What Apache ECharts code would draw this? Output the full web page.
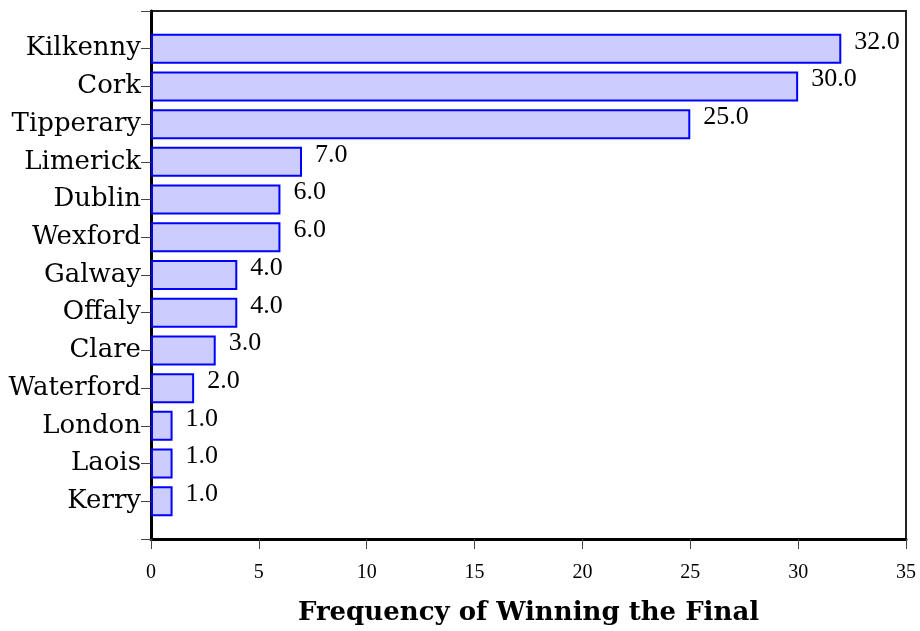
<!DOCTYPE html>
<html>
<head>
<meta charset="utf-8">
<script src="https://cdn.jsdelivr.net/npm/echarts@6/dist/echarts.min.js"></script>
<style>
  html, body { margin: 0; padding: 0; background: #fff; }
  #chart { width: 920px; height: 631px; }
</style>
</head>
<body>
<div id="chart"></div>
<script>
// All-Ireland hurling final wins by county
const counties = ['Kilkenny', 'Cork', 'Tipperary', 'Limerick', 'Dublin', 'Wexford', 'Galway',
                  'Offaly', 'Clare', 'Waterford', 'London', 'Laois', 'Kerry'];
const wins = [32, 30, 25, 7, 6, 6, 4, 4, 3, 2, 1, 1, 1];
const xTicks = [0, 5, 10, 15, 20, 25, 30, 35];

// Blank slots at both ends give the half-step margin above the first and below the last bar
const yData = [''].concat(counties, ['']);
const barData = ['-'].concat(wins, ['-']);

const chart = echarts.init(document.getElementById('chart'), null, { renderer: 'canvas' });

chart.setOption({
  animation: false,
  grid: {
    left: 151, right: 14, top: 11, bottom: 91,
    show: true, borderColor: '#222', borderWidth: 2, backgroundColor: 'transparent'
  },
  xAxis: {
    type: 'value',
    min: xTicks[0],
    max: xTicks[xTicks.length - 1],
    interval: 5,
    splitLine: { show: false },
    axisLine: { show: true, lineStyle: { color: '#000', width: 3 } },
    axisTick: { show: true, length: 10, lineStyle: { color: '#444', width: 1 } },
    axisLabel: {
      margin: 24,
      color: '#000',
      fontFamily: 'Liberation Serif',
      fontSize: 20
    },
    name: 'Frequency of Winning the Final',
    nameLocation: 'middle',
    nameGap: 61,
    nameTextStyle: {
      fontFamily: 'DejaVu Serif',
      fontWeight: 'bold',
      fontSize: 26,
      color: '#000'
    }
  },
  yAxis: {
    type: 'category',
    data: yData,
    inverse: true,
    boundaryGap: false,
    splitLine: { show: false },
    axisLine: { show: true, lineStyle: { color: '#000', width: 3 } },
    axisTick: { show: true, length: 10, interval: 0, lineStyle: { color: '#444', width: 1 } },
    axisLabel: {
      interval: 0,
      margin: 10,
      color: '#000',
      fontFamily: 'DejaVu Serif',
      fontSize: 26
    }
  },
  series: [{
    type: 'bar',
    data: barData,
    barWidth: 30,
    itemStyle: { color: '#ccccff', borderColor: '#0000ff', borderWidth: 2 },
    label: {
      show: true,
      position: 'right',
      distance: 13,
      offset: [0, -7],
      color: '#000',
      fontFamily: 'Liberation Serif',
      fontSize: 26,
      formatter: p => Number(p.value).toFixed(1)
    }
  }]
});
</script>
</body>
</html>
